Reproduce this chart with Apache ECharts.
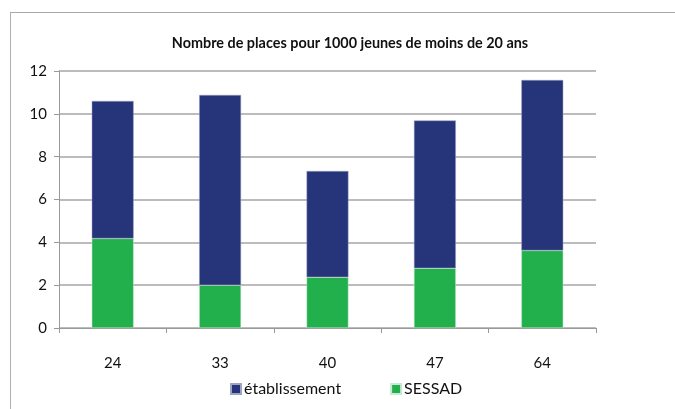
<!DOCTYPE html>
<html><head><meta charset="utf-8">
<script src="https://cdn.jsdelivr.net/npm/echarts@6/dist/echarts.min.js"></script>
<style>html,body{margin:0;padding:0;background:#fff;overflow:hidden;}#c{width:675px;height:409px;}
#frame{position:absolute;left:10px;top:12px;width:680px;height:420px;border-left:1.5px solid #b0b0b0;border-top:1.5px solid #a8a8a8;pointer-events:none;}</style>
</head><body>
<div id="c"></div><div id="frame"></div>
<script>
const categories = ['24', '33', '40', '47', '64'];
const sessad = [4.18, 2.0, 2.37, 2.79, 3.62];
const etablissement = [6.42, 8.88, 4.96, 6.9, 7.96];
const yTicks = { min: 0, max: 12, interval: 2 };
const titleText = 'Nombre de places pour 1000 jeunes de moins de 20 ans';

const chart = echarts.init(document.getElementById('c'));
const font = 'Lato, Open Sans, sans-serif';
chart.setOption({
  animation: false,
  title: { text: titleText, left: 345, top: 31, textAlign: 'center',
    textStyle: { fontFamily: font, fontWeight: 'bold', fontSize: 14.4, color: '#111' } },
  grid: { left: 59, right: 79, top: 71, bottom: 81 },
  legend: { bottom: 7, left: 225, itemWidth: 10, itemHeight: 10, itemGap: 49,
    icon: 'rect', data: ['établissement', 'SESSAD'],
    textStyle: { fontFamily: font, fontSize: 16, color: '#111', padding: [0,0,0,-2] } },
  xAxis: { type: 'category', data: categories, boundaryGap: true,
    axisLine: { lineStyle: { color: '#999', width: 1 } },
    axisTick: { show: true, length: 5, lineStyle: { color: '#999' } },
    axisLabel: { margin: 28, fontFamily: font, fontSize: 15, color: '#111' } },
  yAxis: { type: 'value', min: yTicks.min, max: yTicks.max, interval: yTicks.interval,
    axisLine: { show: true, lineStyle: { color: '#999' } },
    axisTick: { show: true, length: 5, lineStyle: { color: '#999' } },
    splitLine: { lineStyle: { color: '#a6a6aa', width: 1.5 } },
    axisLabel: { margin: 12, fontFamily: font, fontSize: 15, color: '#111' } },
  series: [
    { name: 'SESSAD', type: 'bar', stack: 't', data: sessad, barWidth: '39%',
      itemStyle: { color: '#21b04b', borderColor: '#c9e9d2', borderWidth: 0.5 } },
    { name: 'établissement', type: 'bar', stack: 't', data: etablissement, barWidth: '39%',
      itemStyle: { color: '#263479', borderColor: '#9ea3c4', borderWidth: 0.5 } }
  ]
});
</script></body></html>
